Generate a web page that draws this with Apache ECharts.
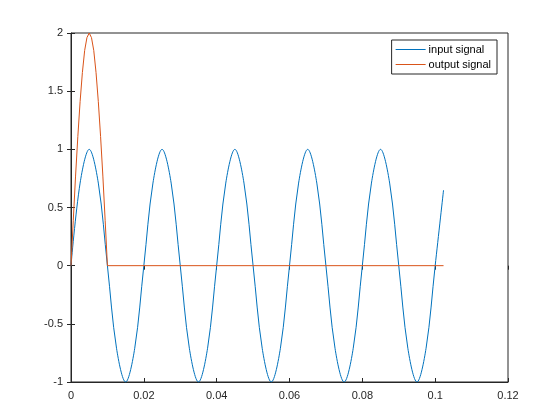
<!DOCTYPE html>
<html>
<head>
<meta charset="utf-8">
<script src="https://cdn.jsdelivr.net/npm/echarts@6/dist/echarts.min.js"></script>
<style>html,body{margin:0;background:#fff}#c{width:560px;height:420px}</style>
</head>
<body>
<div id="c"></div>
<script>
// input signal, sampled every 0.0025 s
var inputT = [0,0.0025,0.005,0.0075,0.01,0.0125,0.015,0.0175,0.02,0.0225,0.025,0.0275,0.03,0.0325,0.035,0.0375,0.04,0.0425,0.045,0.0475,0.05,0.0525,0.055,0.0575,0.06,0.0625,0.065,0.0675,0.07,0.0725,0.075,0.0775,0.08,0.0825,0.085,0.0875,0.09,0.0925,0.095,0.0975,0.1,0.1023]
var inputV = [0,0.71,1,0.71,0,-0.71,-1,-0.71,0,0.71,1,0.71,0,-0.71,-1,-0.71,0,0.71,1,0.71,0,-0.71,-1,-0.71,0,0.71,1,0.71,0,-0.71,-1,-0.71,0,0.71,1,0.71,0,-0.71,-1,-0.71,0,0.65]
// output signal
var outputT = [0,0.000625,0.00125,0.001875,0.0025,0.003125,0.00375,0.004375,0.005,0.005625,0.00625,0.006875,0.0075,0.008125,0.00875,0.009375,0.01,0.1023]
var outputV = [0,0.39,0.77,1.11,1.41,1.66,1.85,1.96,2,1.96,1.85,1.66,1.41,1.11,0.77,0.39,0,0]
var legendNames = ['input signal', 'output signal']

function pairs(t, v) { return t.map(function (x, i) { return [x, v[i]] }) }

var lab = { color: '#262626', fontSize: 11, fontFamily: 'Liberation Sans' }
var chart = echarts.init(document.getElementById('c'))
chart.setOption({
    animation: false,
    grid: { left: 71, right: 52, top: 33, bottom: 38, show: true, borderColor: '#262626', borderWidth: 1 },
    legend: {
        data: legendNames, orient: 'vertical', right: 63, top: 40,
        backgroundColor: '#fff', borderColor: '#262626', borderWidth: 1, padding: [4, 6, 4, 4],
        itemGap: 4, itemWidth: 30, itemHeight: 1, icon: 'rect',
        textStyle: { color: '#000', fontSize: 11, fontFamily: 'Liberation Sans', padding: [0, 0, 0, -2] }
    },
    xAxis: [
        { type: 'value', min: 0, max: 0.12, interval: 0.02, axisLine: { onZero: false, lineStyle: { color: '#262626' } },
          axisTick: { inside: true, length: 4 }, splitLine: { show: false }, axisLabel: lab },
        { type: 'value', position: 'top', min: 0, max: 0.12, interval: 0.02, axisLine: { show: false },
          axisTick: { inside: true, length: 4, lineStyle: { color: '#262626' } }, axisLabel: { show: false }, splitLine: { show: false } }
    ],
    yAxis: [
        { type: 'value', min: -1, max: 2, interval: 0.5, axisLine: { show: true, onZero: false, lineStyle: { color: '#262626' } },
          axisTick: { show: true, inside: true, length: 4 }, splitLine: { show: false }, axisLabel: lab },
        { type: 'value', position: 'right', min: -1, max: 2, interval: 0.5, axisLine: { show: false },
          axisTick: { show: true, inside: true, length: 4, lineStyle: { color: '#262626' } }, axisLabel: { show: false }, splitLine: { show: false } }
    ],
    series: [
        { name: legendNames[0], type: 'line', data: pairs(inputT, inputV), smooth: 0.35, showSymbol: false,
          lineStyle: { color: '#0072BD', width: 1 }, itemStyle: { color: '#0072BD' } },
        { name: legendNames[1], type: 'line', data: pairs(outputT, outputV), showSymbol: false,
          lineStyle: { color: '#D95319', width: 1 }, itemStyle: { color: '#D95319' } }
    ]
})
</script>
</body>
</html>
